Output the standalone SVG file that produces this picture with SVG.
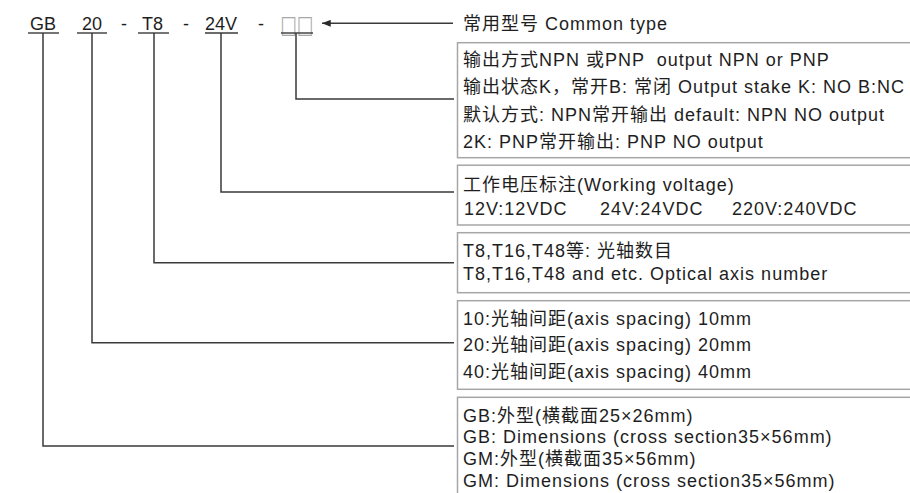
<svg xmlns="http://www.w3.org/2000/svg" width="910" height="493" viewBox="0 0 910 493">
<style>
text{font-family:"Liberation Sans","Noto Sans CJK SC",sans-serif;font-size:18px;fill:#1e1e1e;letter-spacing:1px;white-space:pre}
.code{letter-spacing:0}
.box{fill:#fff;stroke:#a6a6a6;stroke-width:1.5}
.ln{fill:none;stroke:#3a3a3a;stroke-width:1.5}
.ul{stroke:#3a3a3a;stroke-width:1.4}
.sq{fill:#a8a8a8;letter-spacing:0;font-family:"DejaVu Sans",sans-serif;font-size:25px}
</style>
<defs>
<marker id="ah" viewBox="0 0 10 8" refX="10" refY="4" markerWidth="10" markerHeight="7" markerUnits="userSpaceOnUse" orient="auto">
<path d="M0,0 L10,4 L0,8 Z" fill="#2a2a2a"/>
</marker>
</defs>
<rect width="910" height="493" fill="#fff"/>
<g id="code">
<text class="code" x="30" y="30">GB</text>
<text class="code" x="82" y="30">20</text>
<text class="code" x="121" y="30">-</text>
<text class="code" x="142" y="30">T8</text>
<text class="code" x="183" y="30">-</text>
<text class="code" x="205" y="30">24V</text>
<text class="code" x="258" y="30">-</text>
<text class="sq" x="280.5" y="32.5" textLength="33" lengthAdjust="spacingAndGlyphs">□□</text>
<line class="ul" x1="28" y1="33" x2="59" y2="33"/>
<line class="ul" x1="77" y1="33" x2="107" y2="33"/>
<line class="ul" x1="138" y1="33" x2="169" y2="33"/>
<line class="ul" x1="205" y1="33" x2="238" y2="33"/>
<line class="ul" x1="281" y1="33" x2="313" y2="33"/>
</g>
<g id="connectors">
<line class="ln" x1="453" y1="23.3" x2="322" y2="23.3" marker-end="url(#ah)"/>
<polyline class="ln" points="296,33 296,99 454,99"/>
<polyline class="ln" points="221,33 221,192 454,192"/>
<polyline class="ln" points="154,33 154,262.7 454,262.7"/>
<polyline class="ln" points="92,33 92,342.7 454,342.7"/>
<polyline class="ln" points="43,33 43,446 454,446"/>
</g>
<g id="common">
<text x="463" y="30">常用型号 Common type</text>
</g>
<g id="output">
<rect class="box" x="457.5" y="42.7" width="470" height="115"/>
<text x="463" y="65.5">输出方式NPN 或PNP  output NPN or PNP</text>
<text x="463" y="93">输出状态K，常开B: 常闭 Output stake K: NO B:NC</text>
<text x="463" y="120.5">默认方式: NPN常开输出 default: NPN NO output</text>
<text x="463" y="147.5">2K: PNP常开输出: PNP NO output</text>
</g>
<g id="voltage">
<rect class="box" x="457.5" y="165.2" width="470" height="59.8"/>
<text x="463" y="190.5">工作电压标注(Working voltage)</text>
<text y="215"><tspan x="464">12V:12VDC</tspan><tspan x="600">24V:24VDC</tspan><tspan x="732">220V:240VDC</tspan></text>
</g>
<g id="axisnum">
<rect class="box" x="457.5" y="232.7" width="470" height="60"/>
<text x="463" y="256.7">T8,T16,T48等: 光轴数目</text>
<text x="463" y="280">T8,T16,T48 and etc. Optical axis number</text>
</g>
<g id="spacing">
<rect class="box" x="457.5" y="300.7" width="470" height="88.6"/>
<text x="463" y="324.8">10:光轴间距(axis spacing) 10mm</text>
<text x="463" y="350.5">20:光轴间距(axis spacing) 20mm</text>
<text x="463" y="378">40:光轴间距(axis spacing) 40mm</text>
</g>
<g id="shape">
<rect class="box" x="457.5" y="397.3" width="470" height="120"/>
<text x="463" y="421.6">GB:外型(横截面25×26mm)</text>
<text x="463" y="443">GB: Dimensions (cross section35×56mm)</text>
<text x="463" y="465">GM:外型(横截面35×56mm)</text>
<text x="463" y="486.6">GM: Dimensions (cross section35×56mm)</text>
</g>
</svg>
